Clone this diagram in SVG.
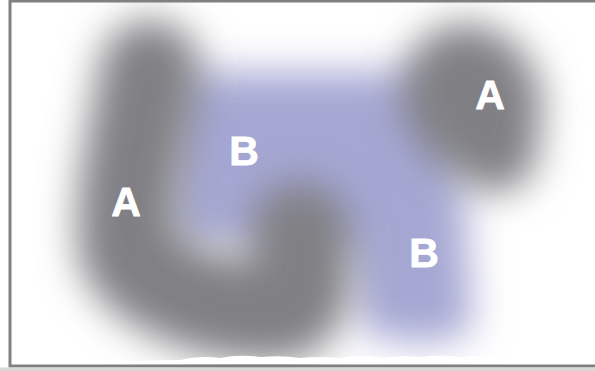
<svg xmlns="http://www.w3.org/2000/svg" width="595" height="371" viewBox="0 0 595 371">
  <defs>
    <filter id="soft" filterUnits="userSpaceOnUse" x="-80" y="-80" width="760" height="540">
      <feGaussianBlur stdDeviation="19"/>
    </filter>
    <style>
      .lbl { font-family: "Liberation Sans", Arial, sans-serif; font-weight: bold; font-size: 41px; fill: #ffffff; stroke: #ffffff; stroke-width: 0.8; text-anchor: middle; }
      .gray { fill: none; stroke: #808084; stroke-linecap: round; stroke-linejoin: round; }
    </style>
  </defs>

  <rect x="0" y="0" width="595" height="371" fill="#ffffff"/>

  <!-- region B (purple) -->
  <g id="regionB" filter="url(#soft)">
    <path d="M 185 72 H 430 Q 455 72 458 105 L 472 318 Q 474 342 420 342 Q 362 342 358 315 L 348 245 H 180 Q 170 245 170 230 V 90 Q 170 72 185 72 Z" fill="#a5a7d3"/>
  </g>

  <!-- region A (gray), left arm and bottom hook -->
  <g id="regionA-left" filter="url(#soft)">
    <path class="gray" stroke-width="100" d="M 150 70 C 140 130 124 190 128 245 C 134 285 228 318 282 310 C 308 304 302 258 300 232"/>
    <path d="M 150 235 L 215 268 L 245 300 L 160 300 Z" fill="#808084"/>
  </g>

  <!-- region A (gray), top-right blob -->
  <g id="regionA-right" filter="url(#soft)">
    <ellipse cx="472" cy="100" rx="68" ry="78" transform="rotate(-25 472 100)" fill="#808084"/>
    <circle cx="494" cy="148" r="44" fill="#808084"/>
  </g>

  <!-- ragged white edge along the bottom -->
  <path d="M 12 364 L 12 360 Q 120 361 180 360 Q 200 355 220 358 Q 240 354 262 357 Q 282 355 300 358 Q 320 356 340 358 Q 360 354 382 358 Q 400 355 420 357 Q 440 354 460 357 Q 480 355 500 358 Q 560 359 595 359 L 595 364 Z" fill="#ffffff"/>

  <!-- frame -->
  <rect x="10" y="1" width="600" height="365" fill="none" stroke="#808080" stroke-width="3"/>
  <rect x="0" y="367.5" width="595" height="3.5" fill="#d8d8d8"/>

  <g id="labels">
    <text class="lbl" x="126" y="216">A</text>
    <text class="lbl" x="244" y="165">B</text>
    <text class="lbl" x="490" y="109">A</text>
    <text class="lbl" x="424" y="267">B</text>
  </g>
</svg>
